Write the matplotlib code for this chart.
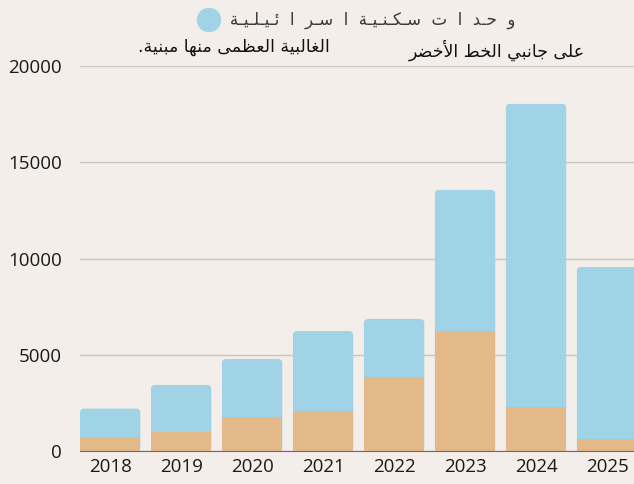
import matplotlib
matplotlib.use('Agg')
import matplotlib.pyplot as plt
from matplotlib.patches import Circle, FancyBboxPatch

years = ['2018', '2019', '2020', '2021', '2022', '2023', '2024', '2025']
totals = [2200, 3430, 4780, 6230, 6860, 13560, 18030, 9560]
built = [750, 1000, 1770, 2080, 3850, 6240, 2290, 625]

legend_label = 'وحدات سكنية اسرائيلية'
note_left = 'الغالبية العظمى منها مبنية.'
note_right = 'على جانبي الخط الأخضر'

bg = '#f3eeea'
blue = '#9fd3e5'
tan = '#e3b98a'

# tiny arabic shaper: presentation forms (isolated, final, initial, medial)
FORMS = {
    'ا': ('\uFE8D', '\uFE8E'), 'أ': ('\uFE83', '\uFE84'), 'د': ('\uFEA9', '\uFEAA'),
    'ر': ('\uFEAD', '\uFEAE'), 'و': ('\uFEED', '\uFEEE'), 'ة': ('\uFE93', '\uFE94'),
    'ى': ('\uFEEF', '\uFEF0'),
    'ب': ('\uFE8F', '\uFE90', '\uFE91', '\uFE92'), 'ت': ('\uFE95', '\uFE96', '\uFE97', '\uFE98'),
    'ج': ('\uFE9D', '\uFE9E', '\uFE9F', '\uFEA0'), 'ح': ('\uFEA1', '\uFEA2', '\uFEA3', '\uFEA4'),
    'خ': ('\uFEA5', '\uFEA6', '\uFEA7', '\uFEA8'), 'س': ('\uFEB1', '\uFEB2', '\uFEB3', '\uFEB4'),
    'ض': ('\uFEBD', '\uFEBE', '\uFEBF', '\uFEC0'), 'ط': ('\uFEC1', '\uFEC2', '\uFEC3', '\uFEC4'),
    'ظ': ('\uFEC5', '\uFEC6', '\uFEC7', '\uFEC8'), 'ع': ('\uFEC9', '\uFECA', '\uFECB', '\uFECC'),
    'غ': ('\uFECD', '\uFECE', '\uFECF', '\uFED0'), 'ك': ('\uFED9', '\uFEDA', '\uFEDB', '\uFEDC'),
    'ل': ('\uFEDD', '\uFEDE', '\uFEDF', '\uFEE0'), 'م': ('\uFEE1', '\uFEE2', '\uFEE3', '\uFEE4'),
    'ن': ('\uFEE5', '\uFEE6', '\uFEE7', '\uFEE8'), 'ه': ('\uFEE9', '\uFEEA', '\uFEEB', '\uFEEC'),
    'ي': ('\uFEF1', '\uFEF2', '\uFEF3', '\uFEF4'), 'ئ': ('\uFE89', '\uFE8A', '\uFE8B', '\uFE8C'),
}


def shape(s, spread=False):
    s = s.replace('لأ', '\uE000')  # lam-alef ligature placeholder
    out = []
    for i, c in enumerate(s):
        prev = s[i - 1] if i > 0 else ''
        nxt = s[i + 1] if i + 1 < len(s) else ''
        if c == '\uE000':
            joins_prev = prev in FORMS and len(FORMS[prev]) == 4
            out.append('\uFEF8' if joins_prev else '\uFEF7')
            continue
        if c not in FORMS:
            out.append(c)
            continue
        f = FORMS[c]
        jp = prev in FORMS and len(FORMS[prev]) == 4
        jn = len(f) == 4 and (nxt in FORMS or nxt == '\uE000')
        if jp and jn:
            g = f[3]
        elif jp:
            g = f[1]
        elif jn:
            g = f[2]
        else:
            g = f[0]
        out.append(g)
        if spread and nxt:
            if nxt == ' ':
                out.append(' ')
            else:
                out.append('\u0640' if jn else '  ')
    return ''.join(out)[::-1]


fig = plt.figure(figsize=(6.34, 4.84), dpi=100, facecolor=bg)
ax = fig.add_axes([80 / 634, 1 - 451 / 484, 1 - 80 / 634, (451 - 66) / 484])
ax.set_facecolor(bg)

ax.set_xlim(-0.425, 7.38)
ax.set_ylim(0, 20000)

w = 0.85
# y units per x unit in screen space, so corners come out round
aspect = (20000 / 385) / (7.805 / 554)
for i, t in enumerate(totals):
    ax.add_patch(FancyBboxPatch((i - w / 2, 0), w, t,
                                boxstyle='round,pad=0,rounding_size=0.06',
                                mutation_aspect=aspect, fc=blue, ec='none', zorder=2))
ax.bar(range(len(years)), built, width=w, color=tan, zorder=3)

ax.set_yticks([0, 5000, 10000, 15000, 20000])
ax.set_xticks(range(len(years)))
ax.set_xticklabels(years)
ax.grid(axis='y', color='#c9c5c1', linewidth=1, zorder=0)
ax.tick_params(axis='y', length=0, pad=13, labelsize=13.5)
ax.tick_params(axis='x', length=0, pad=5, labelsize=13.5)
for lab in ax.get_xticklabels() + ax.get_yticklabels():
    lab.set_family(['Open Sans', 'DejaVu Sans'])
    lab.set_color('#1a1a1a')
for sp in ['left', 'right', 'top']:
    ax.spines[sp].set_visible(False)
ax.spines['bottom'].set_color('#6b6b6b')
ax.spines['bottom'].set_zorder(4)

circ = Circle((209, 484 - 20), 11.5, transform=None, color=blue)
fig.patches.append(circ)

fig.text(230 / 634, 1 - 20 / 484, shape(legend_label, spread=True), ha='left', va='center',
         fontsize=12, family=['DejaVu Sans'], color='#3a3a3a')
fig.text(330 / 634, 1 - 47 / 484, shape(note_left), ha='right', va='center',
         fontsize=12.5, family=['DejaVu Sans'], color='#111111')
fig.text(585 / 634, 1 - 50 / 484, shape(note_right), ha='right', va='center',
         fontsize=12.5, family=['DejaVu Sans'], color='#111111')

fig.savefig('out.png', dpi=100, facecolor=bg)
